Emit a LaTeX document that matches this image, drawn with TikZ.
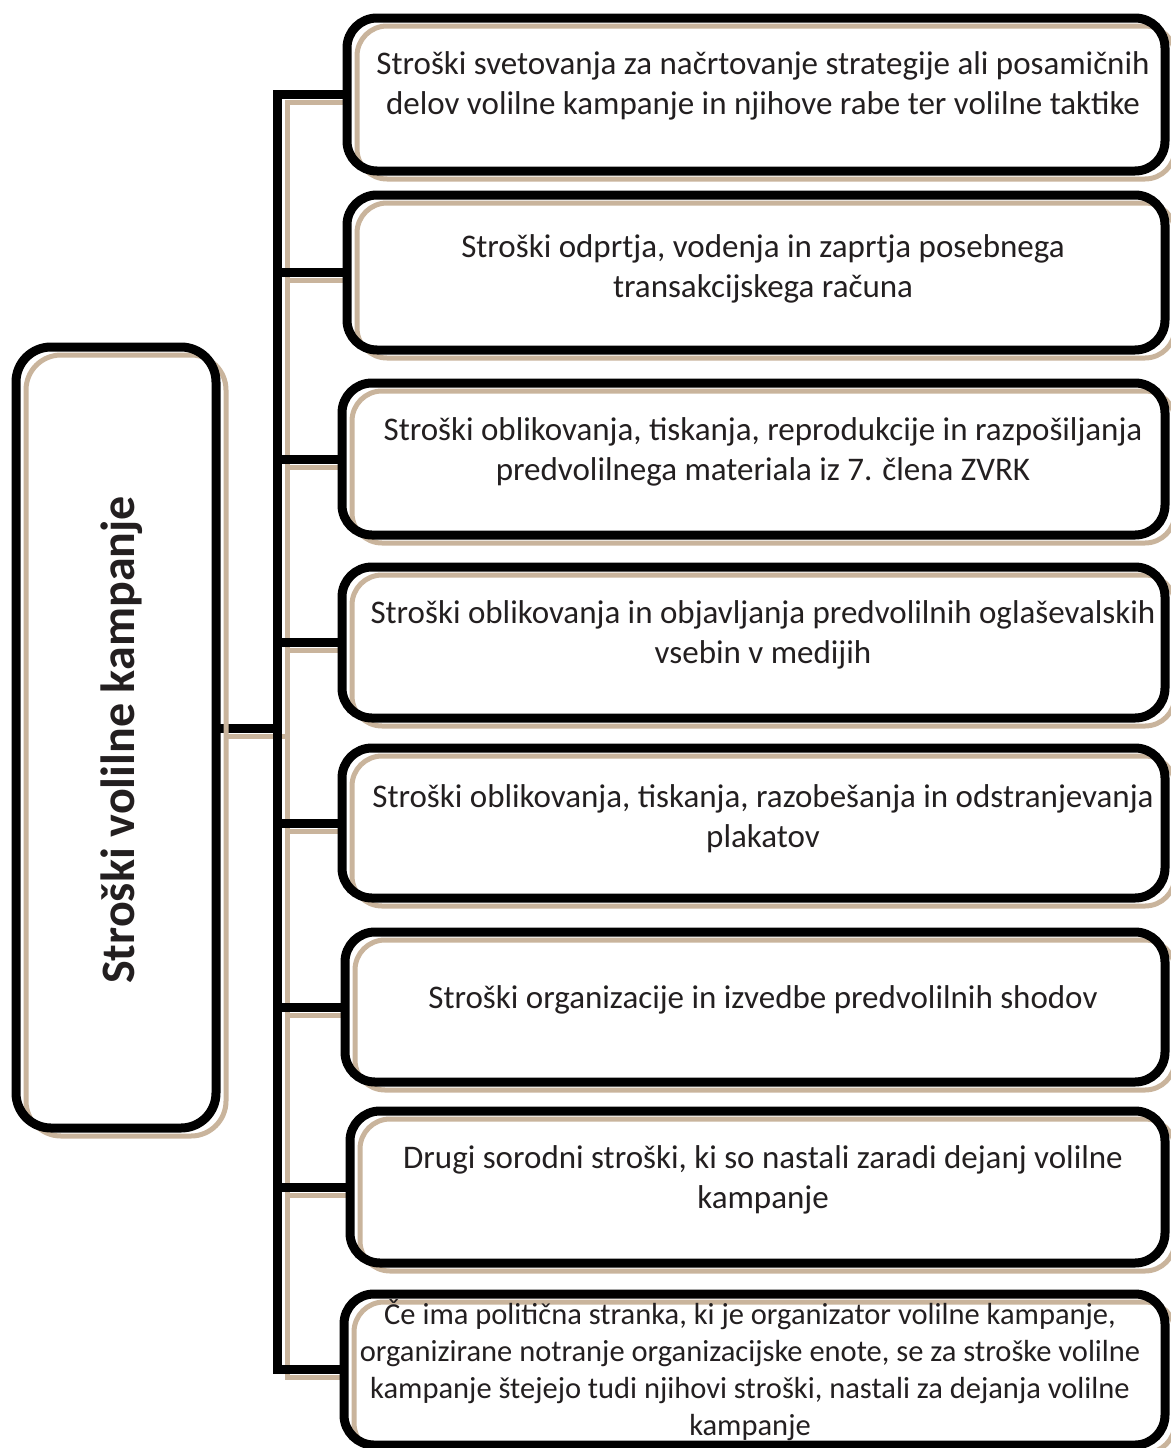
\documentclass[tikz,border=0pt]{standalone}
\usepackage{fontspec}
\setmainfont{Carlito}
\usetikzlibrary{backgrounds}
\definecolor{tanc}{RGB}{201,180,156}
\definecolor{txt}{RGB}{35,31,32}
\newcommand{\mkbox}[6]{%
  \node[cbox, rounded corners=#6pt, minimum width={(#4-#2)*1pt}, minimum height={(#5-#3)*1pt}] (#1) at ({(#2+#4)/2},{(#3+#5)/2}) {};}
\begin{document}
\begin{tikzpicture}[x=1pt,y=-1pt,
  cbox/.style={rectangle, inner sep=0pt, outer sep=0pt, fill=white,
    postaction={draw=tanc, line width=5pt, transform canvas={xshift=10pt,yshift=-8pt}},
    postaction={draw=black, line width=9pt}},
  ctext/.style={align=center, text=txt, font=\fontsize{33}{40}\selectfont, inner sep=0pt},
  tanline/.style={draw=tanc, line width=5pt},
  blkline/.style={draw=black, line width=9pt}]
\useasboundingbox (0,0) rectangle (1170,1448);
\coordinate (tx) at (277,0);
% left box
\mkbox{L}{16}{347}{216}{1128}{35}
\node[rotate=90, text=txt, font=\bfseries\fontsize{48}{52}\selectfont] (Lt) at (122,740) {Stroški volilne kampanje};
% right boxes
\mkbox{b1}{347}{18}{1165}{171}{30}
\mkbox{b2}{347}{195}{1165}{350}{30}
\mkbox{b3}{342}{383}{1165}{535}{30}
\mkbox{b4}{342}{567}{1165}{718}{30}
\mkbox{b5}{342}{748}{1165}{898}{30}
\mkbox{b6}{345}{932}{1165}{1082}{30}
\mkbox{b7}{350}{1111}{1165}{1263}{30}
\mkbox{b8}{344}{1294}{1165}{1445}{30}
\node[ctext] (t1) at (763,86) {Stroški svetovanja za načrtovanje strategije ali posamičnih\\delov volilne kampanje in njihove rabe ter volilne taktike};
\node[ctext] (t2) at (763,269) {Stroški odprtja, vodenja in zaprtja posebnega\\transakcijskega računa};
\node[ctext] (t3) at (763,452) {Stroški oblikovanja, tiskanja, reprodukcije in razpošiljanja\\predvolilnega materiala iz 7. člena ZVRK};
\node[ctext] (t4) at (763,635) {Stroški oblikovanja in objavljanja predvolilnih oglaševalskih\\vsebin v medijih};
\node[ctext] (t5) at (763,819) {Stroški oblikovanja, tiskanja, razobešanja in odstranjevanja\\plakatov};
\node[ctext] (t6) at (763,1000) {Stroški organizacije in izvedbe predvolilnih shodov};
\node[ctext] (t7) at (763,1180) {Drugi sorodni stroški, ki so nastali zaradi dejanj volilne\\kampanje};
\node[ctext, font=\fontsize{30.5}{37}\selectfont] (t8) at (750,1370) {Če ima politična stranka, ki je organizator volilne kampanje,\\organizirane notranje organizacijske enote, se za stroške volilne\\kampanje štejejo tudi njihovi stroški, nastali za dejanja volilne\\kampanje};
% connectors
\begin{pgfonlayer}{background}
\begin{scope}[transform canvas={xshift=10pt,yshift=-8pt}]
  \draw[tanline] (b1.west) -- (b1.west -| tx) -- (b8.west -| tx) -- (b8.west);
  \foreach \i in {2,...,7} \draw[tanline] (b\i.west -| tx) -- (b\i.west);
  \draw[tanline] ([yshift=9pt]L.east) -- ([yshift=9pt]L.east -| tx);
\end{scope}
  \draw[blkline] (b1.west) -- (b1.west -| tx) -- (b8.west -| tx) -- (b8.west);
  \foreach \i in {2,...,7} \draw[blkline] (b\i.west -| tx) -- (b\i.west);
  \draw[blkline] ([yshift=9pt]L.east) -- ([yshift=9pt]L.east -| tx);
\end{pgfonlayer}
\end{tikzpicture}
\end{document}
